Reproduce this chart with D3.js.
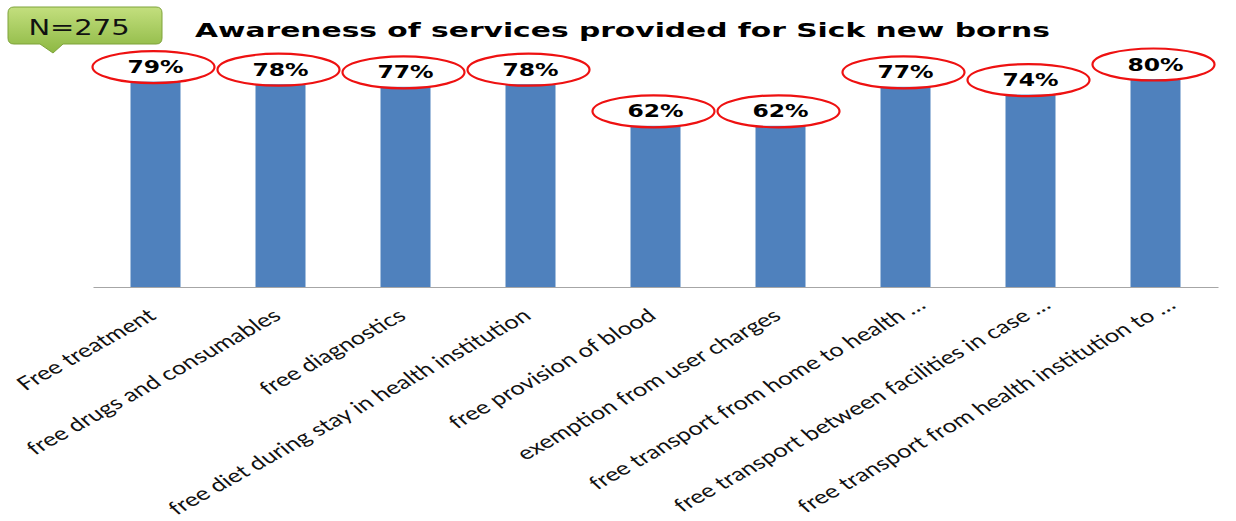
<!DOCTYPE html>
<html>
<head>
<meta charset="utf-8">
<script src="https://cdn.jsdelivr.net/npm/d3@7"></script>
<style>
  body { margin: 0; background: #fff; }
  svg { display: block; }
</style>
</head>
<body>
<script>
(function () {
    // data
    var categories = [
        "Free treatment",
        "free drugs and consumables",
        "free diagnostics",
        "free diet during stay in health institution",
        "free provision of blood",
        "exemption from user charges",
        "free transport from home to health …",
        "free transport between facilities in case …",
        "free transport from health institution to …"
    ];
    var awareness = [79, 78, 77, 78, 62, 62, 77, 74, 80];
    var sampleLabel = "N=275";
    var titleText = "Awareness of services provided for Sick new borns";

    var width = 1236, height = 521;
    var SX = 1.38; // the slide is stretched horizontally

    var svg = d3.select("body").append("svg")
        .attr("width", width)
        .attr("height", height);

    var x = d3.scaleBand()
        .domain(categories)
        .range([93, 1218])
        .paddingInner(0.6)
        .paddingOuter(0.3);

    var y = d3.scaleLinear()
        .domain([0, 100])
        .range([287, 27]);

    // gradient for the N box
    var defs = svg.append("defs");
    var grad = defs.append("linearGradient")
        .attr("id", "nGrad")
        .attr("x1", 0).attr("y1", 0).attr("x2", 0).attr("y2", 1);
    grad.append("stop").attr("offset", "0%").attr("stop-color", "#c3df7e");
    grad.append("stop").attr("offset", "100%").attr("stop-color", "#8db843");

    // N=275 callout
    var nb = svg.append("g");
    var bx0 = 8, by0 = 7, bx1 = 162, by1 = 44, r = 6;
    var p = d3.path();
    p.moveTo(bx0 + r, by0);
    p.lineTo(bx1 - r, by0);
    p.quadraticCurveTo(bx1, by0, bx1, by0 + r);
    p.lineTo(bx1, by1 - r);
    p.quadraticCurveTo(bx1, by1, bx1 - r, by1);
    p.lineTo(63, by1);
    p.lineTo(53, 53);
    p.lineTo(40, by1);
    p.lineTo(bx0 + r, by1);
    p.quadraticCurveTo(bx0, by1, bx0, by1 - r);
    p.lineTo(bx0, by0 + r);
    p.quadraticCurveTo(bx0, by0, bx0 + r, by0);
    p.closePath();
    nb.append("path")
        .attr("d", p.toString())
        .attr("fill", "url(#nGrad)")
        .attr("stroke", "#7ea33a")
        .attr("stroke-width", 1);
    nb.append("text")
        .attr("transform", "translate(79,35) scale(" + SX + ",1)")
        .attr("text-anchor", "middle")
        .style("font-family", "DejaVu Sans, Verdana, sans-serif")
        .style("font-size", "21px")
        .attr("fill", "#111")
        .text(sampleLabel);

    // title
    svg.append("text")
        .attr("transform", "translate(195,37) scale(1.565,1)")
        .style("font-family", "DejaVu Sans, Verdana, sans-serif")
        .style("font-weight", "bold")
        .style("font-size", "19px")
        .attr("fill", "#000")
        .text(titleText);

    var rows = categories.map(function (c, i) { return { name: c, value: awareness[i] }; });

    // bars
    svg.selectAll("rect.bar")
        .data(rows)
        .enter()
          .append("rect")
            .attr("class", "bar")
            .attr("x", function (d) { return x(d.name); })
            .attr("y", function (d) { return y(d.value); })
            .attr("width", x.bandwidth())
            .attr("height", function (d) { return y(0) - y(d.value); })
            .attr("fill", "#4f81bd");

    // category axis
    var xAxis = d3.axisBottom(x).tickSize(0).tickFormat("");
    var axisG = svg.append("g")
        .attr("transform", "translate(0," + y(0) + ")")
        .call(xAxis);
    axisG.select(".domain").attr("stroke", "#a6a6a6").attr("stroke-width", 1.2);

    // rotated category labels
    svg.selectAll("text.cat")
        .data(rows)
        .enter()
          .append("text")
            .attr("class", "cat")
            .attr("transform", function (d) {
                var cx = x(d.name) + x.bandwidth() / 2;
                return "translate(" + (cx + 2) + ",318) scale(" + SX + ",1) rotate(-37.5)";
            })
            .attr("dx", function (d) { return /…$/.test(d.name) ? 18 : 0; })
            .attr("text-anchor", "end")
            .style("font-family", "Lato, 'Open Sans', sans-serif")
            .style("font-size", "18.5px")
            .attr("fill", "#111")
            .text(function (d) { return d.name; });

    // value labels with red ellipses
    var lab = svg.selectAll("g.val")
        .data(rows)
        .enter()
          .append("g")
            .attr("class", "val");

    lab.append("ellipse")
        .attr("cx", function (d) { return x(d.name) + x.bandwidth() / 2 - 2; })
        .attr("cy", function (d) { return y(d.value) - 14.5; })
        .attr("rx", 61)
        .attr("ry", 16)
        .attr("fill", "none")
        .attr("stroke", "#ee1111")
        .attr("stroke-width", 2.2);

    lab.append("text")
        .attr("transform", function (d) {
            var cx = x(d.name) + x.bandwidth() / 2;
            return "translate(" + cx + "," + (y(d.value) - 8.5) + ") scale(" + SX + ",1)";
        })
        .attr("text-anchor", "middle")
        .style("font-family", "DejaVu Sans, Verdana, sans-serif")
        .style("font-weight", "bold")
        .style("font-size", "17px")
        .attr("fill", "#000")
        .text(function (d) { return d.value + "%"; });
})();
</script>
</body>
</html>
